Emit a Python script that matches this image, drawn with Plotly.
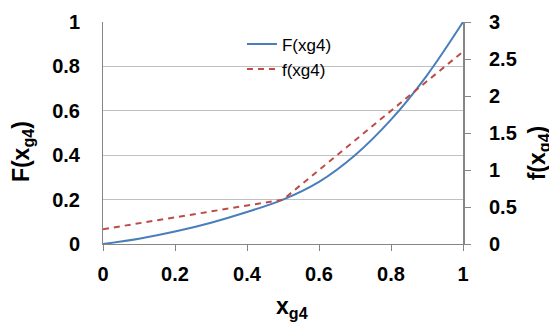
import plotly.graph_objects as go

x_vals = [0.0, 0.1, 0.2, 0.3, 0.4, 0.5, 0.6, 0.7, 0.8, 0.9, 1.0]
F_vals = [0.0, 0.024, 0.056, 0.096, 0.144, 0.2, 0.28, 0.40, 0.56, 0.76, 1.0]
f_vals = [0.2, 0.28, 0.36, 0.44, 0.52, 0.6, 1.0, 1.4, 1.8, 2.2, 2.6]

x_ticks = [0, 0.2, 0.4, 0.6, 0.8, 1]
x_tick_text = ["0", "0.2", "0.4", "0.6", "0.8", "1"]
yl_ticks = [0, 0.2, 0.4, 0.6, 0.8, 1]
yl_tick_text = ["0", "0.2", "0.4", "0.6", "0.8", "1"]
yr_ticks = [0, 0.5, 1, 1.5, 2, 2.5, 3]
yr_tick_text = ["0", "0.5", "1", "1.5", "2", "2.5", "3"]

FONT = "Liberation Sans, Arial, sans-serif"
AXIS_GRAY = "#868686"
GRID_GRAY = "#c0c0c0"

fig = go.Figure()
fig.add_trace(go.Scatter(x=x_vals, y=F_vals, mode="lines", name="F(xg4)",
                         line=dict(color="#4a7ebb", width=2, shape="spline", smoothing=1),
                         yaxis="y"))
fig.add_trace(go.Scatter(x=x_vals, y=f_vals, mode="lines", name="f(xg4)",
                         line=dict(color="#be4b48", width=2, dash="6px,5px"), yaxis="y2"))

tick_font = dict(size=20, family=FONT, weight="bold", color="black")
title_font = dict(size=23, family=FONT, color="black")

fig.update_layout(
    width=549, height=317,
    margin=dict(l=95, r=94, t=14, b=81),
    plot_bgcolor="white", paper_bgcolor="white",
    font=dict(family=FONT, color="black"),
    showlegend=True,
    legend=dict(x=0.386, y=0.98, xanchor="left", yanchor="top",
                bgcolor="rgba(0,0,0,0)", font=dict(size=17, family=FONT, color="black"),
                tracegroupgap=0, itemwidth=30),
    xaxis=dict(range=[0, 1], tickvals=x_ticks, ticktext=x_tick_text,
               showgrid=False, zeroline=False, showline=True, linecolor=AXIS_GRAY,
               linewidth=1, ticks="outside", ticklen=6, tickcolor=AXIS_GRAY,
               tickfont=tick_font, ticklabelstandoff=6, automargin=False),
    yaxis=dict(range=[0, 1], tickvals=yl_ticks, ticktext=yl_tick_text,
               showgrid=True, gridcolor=GRID_GRAY, gridwidth=1, zeroline=False,
               showline=True, linecolor=AXIS_GRAY, linewidth=1, ticks="",
               tickfont=tick_font, ticklabelstandoff=18, automargin=False),
    yaxis2=dict(range=[0, 3], tickvals=yr_ticks, ticktext=yr_tick_text,
                overlaying="y", side="right", anchor="x",
                showgrid=False, zeroline=False, showline=True, linecolor=AXIS_GRAY,
                linewidth=2, ticks="outside", ticklen=6, tickcolor=AXIS_GRAY,
                tickfont=tick_font, ticklabelstandoff=14, automargin=False),
    annotations=[
        dict(text="<b>F(x<sub>g4</sub>)</b>", xref="paper", yref="paper",
             x=-0.225, y=0.414, xanchor="center", yanchor="middle",
             textangle=-90, showarrow=False, font=title_font),
        dict(text="<b>f(x<sub>g4</sub>)</b>", xref="paper", yref="paper",
             x=1.212, y=0.41, xanchor="center", yanchor="middle",
             textangle=-90, showarrow=False, font=title_font),
        dict(text="<b>x<sub>g4</sub></b>", xref="paper", yref="paper",
             x=0.525, y=-0.285, xanchor="center", yanchor="middle",
             showarrow=False, font=title_font),
    ],
)

fig.write_html("out.html")
